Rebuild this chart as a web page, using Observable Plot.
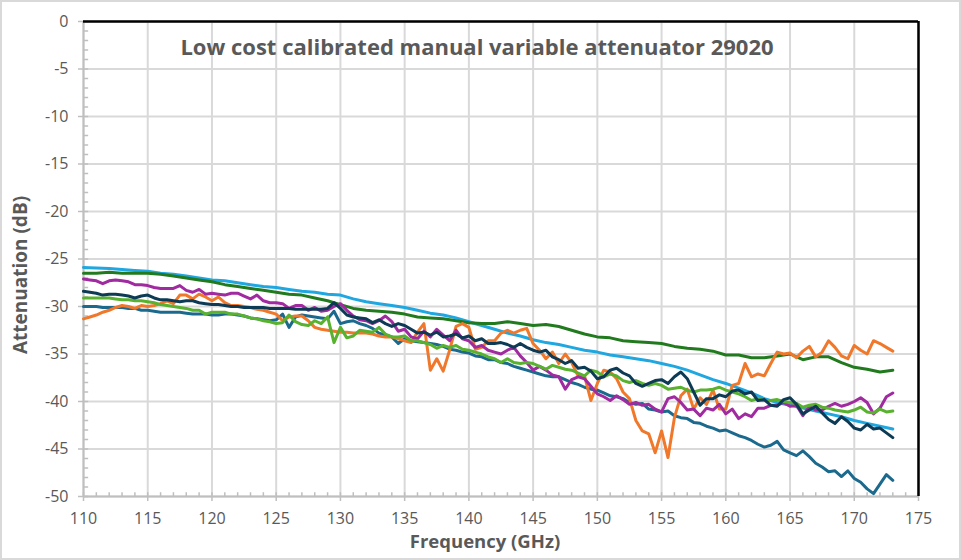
<!DOCTYPE html>
<html><head><meta charset="utf-8">
<script src="https://cdn.jsdelivr.net/npm/d3@7"></script>
<script src="https://cdn.jsdelivr.net/npm/@observablehq/plot@0.6"></script>
<style>
html,body{margin:0;padding:0;background:#fff;}
#wrap{position:relative;width:961px;height:560px;}
#border{position:absolute;left:0;top:0;width:961px;height:560px;box-sizing:border-box;border:2px solid #d9d9d9;pointer-events:none;}
</style></head><body><div id="wrap"><div id="border"></div></div>
<script>
const title = "Low cost calibrated manual variable attenuator 29020";
const xLabel = "Frequency (GHz)";
const yLabel = "Attenuation (dB)";
const xTicks = [110,115,120,125,130,135,140,145,150,155,160,165,170,175];
const yTicks = [0,-5,-10,-15,-20,-25,-30,-35,-40,-45,-50];
const xMinor = d3.range(110, 176, 1);
const yMinor = d3.range(-50, 1, 1);

// fine grid 110..173 step 0.5 GHz, coarse grid 110..173 step 1 GHz
const freqFine = d3.range(0, 127).map(i => 110 + i * 0.5);
const freqCoarse = d3.range(110, 174, 1);

const lightBlue = [
 -25.9,-25.95,-26.0,-26.1,-26.2,-26.3,-26.5,-26.6,-26.8,-27.0,
 -27.2,-27.3,-27.5,-27.7,-27.9,-28.0,-28.2,-28.4,-28.5,-28.7,
 -28.8,-29.2,-29.5,-29.7,-29.9,-30.1,-30.4,-30.7,-30.9,-31.2,
 -31.6,-32.0,-32.4,-32.8,-33.1,-33.5,-33.8,-34.0,-34.3,-34.6,
 -34.8,-35.1,-35.3,-35.5,-35.7,-36.0,-36.3,-36.7,-37.2,-37.7,
 -38.1,-38.6,-39.1,-39.7,-40.1,-40.4,-40.7,-41.0,-41.3,-41.6,
 -42.0,-42.3,-42.6,-42.9];
const darkGreen = [
 -26.5,-26.5,-26.4,-26.5,-26.5,-26.5,-26.6,-26.8,-27.0,-27.2,
 -27.4,-27.7,-27.9,-28.1,-28.3,-28.5,-28.7,-28.8,-29.1,-29.4,
 -29.8,-30.2,-30.4,-30.5,-30.6,-30.8,-31.1,-31.2,-31.3,-31.5,
 -31.7,-31.8,-31.8,-31.6,-31.8,-32.0,-31.9,-32.1,-32.5,-32.9,
 -33.2,-33.3,-33.6,-33.7,-33.8,-33.9,-34.2,-34.4,-34.5,-34.7,
 -35.1,-35.1,-35.4,-35.4,-35.2,-35.0,-35.6,-35.3,-35.3,-35.9,
 -36.4,-36.6,-36.9,-36.7];
const teal = [
 -30.0,-30.0,-30.0,-30.1,-30.1,-30.1,-30.1,-30.2,-30.2,-30.4,
 -30.4,-30.5,-30.6,-30.6,-30.6,-30.6,-30.7,-30.8,-30.8,-30.8,
 -30.9,-30.9,-30.8,-30.8,-30.9,-31.0,-31.2,-31.3,-31.4,-31.5,
 -31.4,-30.8,-32.2,-31.1,-30.9,-31.0,-31.1,-31.2,-31.3,-30.5,
 -31.8,-31.6,-31.5,-31.8,-32.0,-32.3,-32.8,-33.0,-33.2,-33.9,
 -33.4,-33.6,-33.7,-33.8,-33.9,-34.0,-34.2,-34.5,-34.6,-34.8,
 -34.9,-35.2,-35.3,-35.6,-35.6,-35.9,-36.0,-36.3,-36.5,-36.7,
 -36.9,-37.1,-37.3,-37.4,-37.4,-37.7,-38.0,-38.2,-38.5,-38.7,
 -38.8,-39.1,-39.4,-39.5,-39.7,-40.1,-40.3,-40.2,-40.8,-40.9,
 -41.1,-41.0,-41.5,-41.7,-41.8,-42.2,-42.3,-42.6,-42.8,-43.1,
 -43.0,-43.3,-43.6,-43.8,-44.1,-44.5,-44.8,-44.6,-44.2,-45.1,
 -45.4,-45.7,-45.2,-45.8,-46.5,-46.9,-47.4,-47.3,-47.9,-47.3,
 -48.1,-48.5,-49.2,-49.7,-48.7,-47.7,-48.3];
const orange = [
 -31.3,-31.1,-30.9,-30.6,-30.4,-30.1,-29.9,-30.0,-30.2,-29.9,
 -30.0,-29.9,-29.7,-29.4,-29.7,-28.8,-28.8,-29.2,-28.7,-29.0,
 -29.4,-29.0,-29.6,-29.9,-29.9,-30.0,-30.1,-30.3,-30.4,-30.6,
 -30.8,-31.5,-31.1,-31.0,-31.0,-31.5,-32.2,-32.4,-32.5,-32.6,
 -32.7,-32.7,-32.8,-32.8,-32.8,-32.9,-33.1,-33.2,-33.2,-33.4,
 -33.6,-33.8,-32.7,-31.8,-36.7,-35.5,-36.8,-34.6,-32.1,-31.8,
 -32.2,-34.5,-34.3,-33.6,-33.6,-32.8,-32.5,-32.8,-32.5,-32.3,
 -33.9,-34.6,-35.5,-34.8,-36.0,-35.0,-35.9,-37.3,-37.3,-39.9,
 -38.1,-36.7,-36.9,-37.6,-39.0,-39.7,-42.0,-43.1,-43.4,-45.4,
 -43.1,-45.9,-41.7,-39.4,-38.7,-40.8,-39.6,-40.3,-38.8,-40.8,
 -40.8,-38.3,-38.1,-36.0,-37.4,-37.1,-37.3,-36.0,-34.8,-35.0,
 -34.9,-35.4,-34.7,-34.2,-35.3,-34.8,-33.6,-34.3,-35.2,-35.5,
 -34.1,-34.6,-35.0,-33.6,-33.9,-34.3,-34.7];
const purple = [
 -27.1,-27.2,-27.3,-27.6,-27.3,-27.2,-27.3,-27.4,-27.7,-27.7,
 -27.8,-28.0,-28.1,-28.1,-28.1,-27.8,-28.3,-28.5,-28.2,-28.7,
 -28.6,-28.7,-28.8,-28.6,-28.6,-28.9,-29.2,-28.8,-29.4,-29.6,
 -29.6,-29.7,-30.2,-29.9,-29.9,-30.4,-30.1,-30.5,-30.4,-30.0,
 -29.7,-30.4,-31.0,-31.4,-31.5,-31.8,-31.5,-31.0,-31.6,-32.6,
 -32.4,-33.2,-33.4,-32.6,-33.2,-32.4,-33.0,-33.6,-32.5,-33.4,
 -33.6,-34.3,-34.1,-34.6,-34.8,-35.0,-34.6,-34.3,-35.2,-35.9,
 -36.7,-36.3,-36.7,-37.2,-37.4,-38.7,-37.7,-37.4,-37.6,-38.4,
 -39.2,-39.5,-39.9,-39.4,-39.8,-40.3,-40.1,-40.4,-40.3,-40.8,
 -41.1,-39.7,-39.5,-40.1,-40.9,-40.8,-41.5,-40.7,-40.9,-40.3,
 -41.3,-40.8,-41.8,-41.3,-41.6,-40.7,-40.7,-40.4,-40.4,-40.1,
 -40.5,-40.4,-41.5,-40.5,-40.9,-40.9,-40.5,-40.2,-40.5,-40.3,
 -40.0,-39.6,-40.1,-41.3,-40.7,-39.5,-39.1];
const lightGreen = [
 -29.1,-29.1,-29.1,-29.1,-29.1,-29.2,-29.3,-29.3,-29.4,-29.4,
 -29.5,-29.6,-29.8,-29.9,-30.0,-30.1,-30.2,-30.4,-30.4,-30.8,
 -30.6,-30.6,-30.6,-30.8,-30.8,-31.0,-31.2,-31.3,-31.5,-31.6,
 -31.8,-31.7,-30.9,-31.6,-31.9,-32.0,-31.5,-31.8,-31.1,-33.8,
 -32.2,-33.3,-33.1,-32.5,-32.6,-32.7,-32.2,-32.9,-33.2,-33.2,
 -33.1,-33.6,-33.6,-33.8,-34.0,-34.4,-34.1,-34.3,-34.1,-34.5,
 -34.6,-34.8,-35.0,-35.3,-35.5,-35.9,-35.5,-35.9,-36.0,-35.9,
 -36.0,-36.3,-36.6,-36.2,-36.4,-36.6,-36.7,-37.0,-37.3,-36.7,
 -36.9,-37.4,-37.1,-37.3,-37.8,-38.0,-37.8,-38.1,-38.3,-38.1,
 -38.3,-38.7,-38.6,-38.5,-38.8,-39.0,-38.8,-38.8,-38.7,-38.5,
 -38.8,-39.0,-39.2,-39.5,-39.9,-39.7,-39.9,-39.9,-39.8,-40.0,
 -40.1,-40.2,-40.6,-40.4,-40.3,-40.6,-40.7,-40.9,-41.0,-41.1,
 -40.9,-40.6,-41.1,-41.2,-40.8,-41.1,-41.0];
const navy = [
 -28.4,-28.5,-28.6,-28.8,-28.7,-28.7,-28.8,-28.9,-29.1,-28.9,
 -28.8,-29.1,-29.3,-29.3,-29.4,-29.5,-29.4,-29.4,-29.6,-29.7,
 -29.8,-29.8,-29.9,-30.0,-30.0,-30.1,-30.1,-30.1,-30.1,-30.2,
 -30.2,-30.2,-30.2,-30.3,-30.3,-30.3,-30.3,-30.3,-30.2,-29.6,
 -30.2,-30.9,-31.1,-31.2,-31.3,-31.7,-31.4,-31.8,-32.1,-31.8,
 -32.0,-32.4,-32.8,-32.7,-33.0,-32.7,-33.2,-33.1,-32.9,-33.3,
 -33.1,-33.6,-33.4,-33.9,-33.9,-33.8,-34.0,-34.3,-33.9,-34.3,
 -34.6,-34.8,-34.6,-35.3,-35.6,-36.0,-35.7,-36.5,-36.4,-36.8,
 -37.6,-37.4,-36.7,-36.5,-37.0,-37.3,-38.1,-38.4,-38.1,-37.8,
 -37.7,-38.1,-37.4,-36.9,-37.6,-39.0,-40.4,-39.7,-39.7,-39.3,
 -39.5,-38.9,-38.8,-39.2,-39.0,-39.9,-39.8,-40.4,-40.5,-39.8,
 -39.6,-40.3,-41.3,-40.9,-40.5,-41.2,-41.9,-42.3,-41.6,-42.1,
 -42.8,-43.0,-42.4,-42.9,-42.8,-43.3,-43.8];

const seriesList = [
  {name: "lightBlue", freqs: freqCoarse, values: lightBlue, color: "#20a7e0"},
  {name: "darkGreen", freqs: freqCoarse, values: darkGreen, color: "#217a1e"},
  {name: "teal", freqs: freqFine, values: teal, color: "#1b6a8e"},
  {name: "orange", freqs: freqFine, values: orange, color: "#f0782b"},
  {name: "purple", freqs: freqFine, values: purple, color: "#a02a9f"},
  {name: "lightGreen", freqs: freqFine, values: lightGreen, color: "#58b12f"},
  {name: "navy", freqs: freqFine, values: navy, color: "#0d3a54"}
];

const lineMarks = seriesList.map(s => {
  const rows = s.values.map((v, i) => ({f: s.freqs[i], v}));
  return Plot.line(rows, {x: "f", y: "v", stroke: s.color, strokeWidth: 3, strokeLinejoin: "round", strokeLinecap: "round"});
});

const FONT = "'Open Sans', 'Liberation Sans', Arial, sans-serif";
const chart = Plot.plot({
  width: 961, height: 560,
  marginLeft: 83, marginRight: 43, marginTop: 21, marginBottom: 64,
  style: {fontFamily: FONT, background: "transparent", color: "#595959", overflow: "visible"},
  x: {domain: [110, 175]},
  y: {domain: [-50, 0]},
  marks: [
    Plot.ruleX(xTicks, {stroke: "#d9d9d9", strokeWidth: 2}),
    Plot.ruleY(yTicks, {stroke: "#d9d9d9", strokeWidth: 2}),
    Plot.ruleX(xMinor, {y1: -50, y2: -49.6, stroke: "#bfbfbf", strokeWidth: 1.5}),
    Plot.ruleY(yMinor, {x1: 110, x2: 110.4, stroke: "#bfbfbf", strokeWidth: 1.5}),
    Plot.axisX({ticks: xTicks, tickSize: 5, tickPadding: 11, fontSize: 16, stroke: "#bfbfbf", fill: "#595959", strokeWidth: 1.5, label: null, tickFormat: d => String(d)}),
    Plot.axisY({ticks: yTicks, tickSize: 5, tickPadding: 10, fontSize: 16, stroke: "#bfbfbf", fill: "#595959", strokeWidth: 1.5, label: null, tickFormat: d => String(d)}),
    Plot.ruleY([-50], {stroke: "#bfbfbf", strokeWidth: 2}),
    Plot.ruleX([110], {stroke: "#bfbfbf", strokeWidth: 2}),
    Plot.ruleY([0], {stroke: "#000", strokeWidth: 2.5}),
    Plot.ruleX([175], {stroke: "#000", strokeWidth: 2.5}),
    ...lineMarks,
    Plot.text([title], {text: d => d, frameAnchor: "top", dx: -24, dy: 18, fontSize: 22, fontWeight: "bold", fill: "#595959"}),
    Plot.text([xLabel], {text: d => d, frameAnchor: "bottom", dx: -16, dy: 51, fontSize: 18.5, fontWeight: "bold", fill: "#595959"}),
    Plot.text([yLabel], {text: d => d, frameAnchor: "left", textAnchor: "middle", rotate: -90, dx: -63, dy: 16, fontSize: 19, fontWeight: "bold", fill: "#595959"})
  ]
});
chart.style.position = "absolute";
chart.style.left = "0";
chart.style.top = "0";
document.getElementById("wrap").prepend(chart);
</script></body></html>
